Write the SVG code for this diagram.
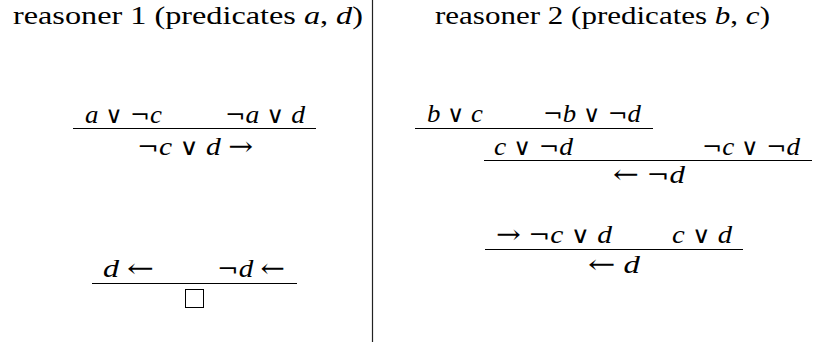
<svg xmlns="http://www.w3.org/2000/svg" width="813" height="344" viewBox="0 0 813 344">
<style>
text{font-family:"Liberation Serif","DejaVu Serif",serif;font-size:26px;fill:#000}
.h{font-size:25px}
.v{font-style:italic}
.s{font-family:"DejaVu Serif","DejaVu Sans",serif;font-size:23px}
.a{font-family:"DejaVu Serif","DejaVu Sans",serif;font-size:26px}
.rule{stroke:#000;stroke-width:1.1;fill:none}
.sep{stroke:#222;stroke-width:1.2}
</style>
<rect width="813" height="344" fill="#fff"/>
<g id="separator"><line class="sep" x1="372.5" y1="0" x2="372.5" y2="342"/></g>
<g id="heading1"><text class="h" x="13" y="24" textLength="350" lengthAdjust="spacingAndGlyphs">reasoner 1 (predicates <tspan class="v">a</tspan>, <tspan class="v">d</tspan>)</text></g>
<g id="heading2"><text class="h" x="435" y="24" textLength="335" lengthAdjust="spacingAndGlyphs">reasoner 2 (predicates <tspan class="v">b</tspan>, <tspan class="v">c</tspan>)</text></g>
<g id="rule-r1-1">
<text x="85" y="123" textLength="77" lengthAdjust="spacingAndGlyphs"><tspan class="v">a</tspan> <tspan class="s">∨ ¬</tspan><tspan class="v">c</tspan></text>
<text x="225" y="123" textLength="80" lengthAdjust="spacingAndGlyphs"><tspan class="s">¬</tspan><tspan class="v">a</tspan> <tspan class="s">∨</tspan> <tspan class="v">d</tspan></text>
<text x="137" y="155" textLength="116" lengthAdjust="spacingAndGlyphs"><tspan class="s">¬</tspan><tspan class="v">c</tspan> <tspan class="s">∨</tspan> <tspan class="v">d</tspan> <tspan class="a">→</tspan></text>
</g>
<g id="rule-r1-2">
<text x="103" y="277" textLength="51" lengthAdjust="spacingAndGlyphs"><tspan class="v">d</tspan> <tspan class="a">←</tspan></text>
<text x="217" y="277" textLength="68" lengthAdjust="spacingAndGlyphs"><tspan class="s">¬</tspan><tspan class="v">d</tspan> <tspan class="a">←</tspan></text>
<rect x="185.5" y="289.5" width="18" height="18" fill="none" stroke="#000" stroke-width="1"/>
</g>
<g id="rule-r2-1">
<text x="427" y="122" textLength="56" lengthAdjust="spacingAndGlyphs"><tspan class="v">b</tspan> <tspan class="s">∨</tspan> <tspan class="v">c</tspan></text>
<text x="543" y="122" textLength="98" lengthAdjust="spacingAndGlyphs"><tspan class="s">¬</tspan><tspan class="v">b</tspan> <tspan class="s">∨ ¬</tspan><tspan class="v">d</tspan></text>
</g>
<g id="rule-r2-2">
<text x="494" y="155" textLength="79" lengthAdjust="spacingAndGlyphs"><tspan class="v">c</tspan> <tspan class="s">∨ ¬</tspan><tspan class="v">d</tspan></text>
<text x="702" y="155" textLength="98" lengthAdjust="spacingAndGlyphs"><tspan class="s">¬</tspan><tspan class="v">c</tspan> <tspan class="s">∨ ¬</tspan><tspan class="v">d</tspan></text>
<text x="613" y="183" textLength="72" lengthAdjust="spacingAndGlyphs"><tspan class="a">←</tspan> <tspan class="s">¬</tspan><tspan class="v">d</tspan></text>
</g>
<g id="rule-r2-3">
<text x="496" y="243" textLength="116" lengthAdjust="spacingAndGlyphs"><tspan class="a">→</tspan> <tspan class="s">¬</tspan><tspan class="v">c</tspan> <tspan class="s">∨</tspan> <tspan class="v">d</tspan></text>
<text x="672" y="243" textLength="60" lengthAdjust="spacingAndGlyphs"><tspan class="v">c</tspan> <tspan class="s">∨</tspan> <tspan class="v">d</tspan></text>
<text x="588" y="273" textLength="52" lengthAdjust="spacingAndGlyphs"><tspan class="a">←</tspan> <tspan class="v">d</tspan></text>
</g>
<g id="connectors">
<line class="rule" x1="73" y1="128.5" x2="316" y2="128.5"/>
<line class="rule" x1="92" y1="283.5" x2="297" y2="283.5"/>
<line class="rule" x1="415" y1="128.5" x2="653" y2="128.5"/>
<line class="rule" x1="484" y1="160.5" x2="812" y2="160.5"/>
<line class="rule" x1="485" y1="249.5" x2="743" y2="249.5"/>
</g>
</svg>
